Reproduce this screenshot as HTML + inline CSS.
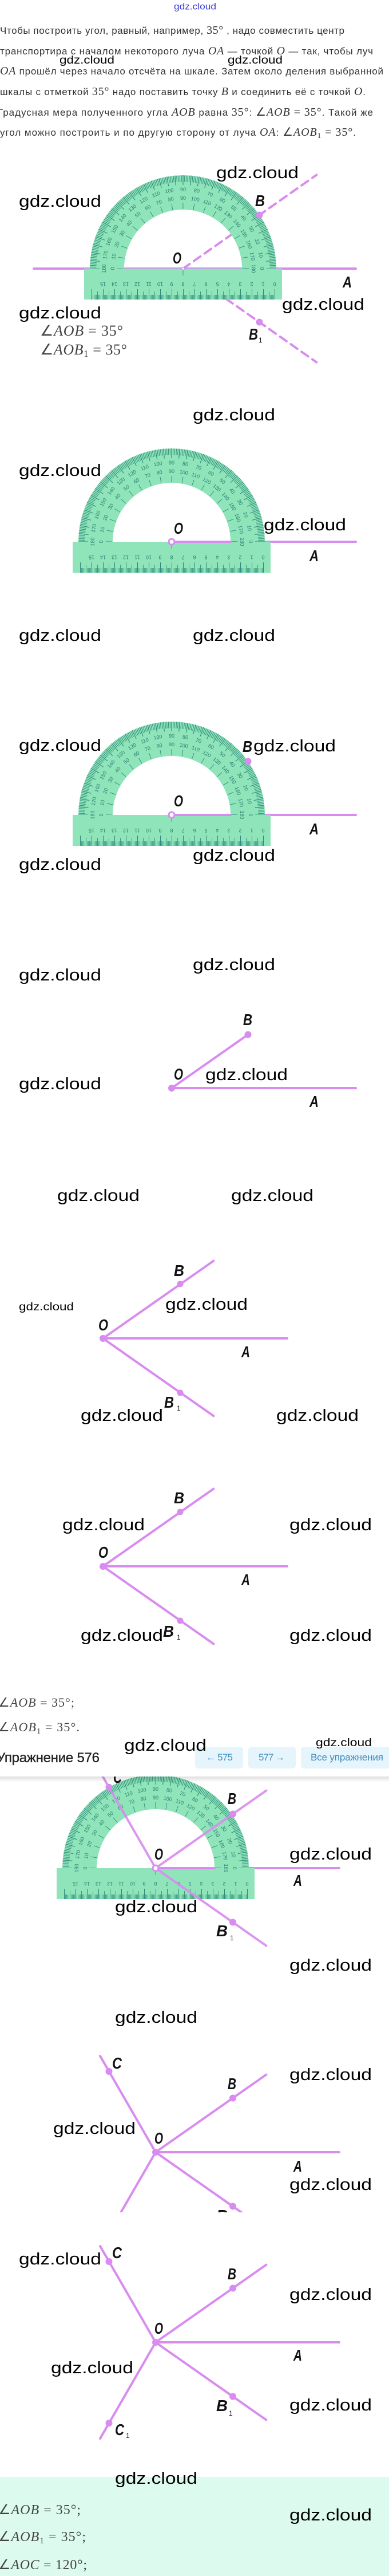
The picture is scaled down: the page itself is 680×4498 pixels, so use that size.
<!DOCTYPE html>
<html><head><meta charset="utf-8">
<style>
html,body{margin:0;padding:0;background:#fff;width:680px;height:4498px;overflow:hidden}
svg{display:block}
.t{font-family:"Liberation Sans",sans-serif;font-size:17px;fill:#333}
.mi{font-family:"Liberation Serif",serif;font-style:italic;font-size:20px}
.mr{font-family:"Liberation Serif",serif;font-style:normal;font-size:20px}
.mm{font-family:"Liberation Serif",serif;fill:#444}
.lb{font-family:"Liberation Sans",sans-serif;font-weight:bold;font-style:italic;font-size:28px;fill:#111}
.sb{font-family:"Liberation Sans",sans-serif;font-size:12px;fill:#111}
.wl{font-family:"Liberation Sans",sans-serif;font-size:29px;fill:#000}
.ws{font-family:"Liberation Sans",sans-serif;font-size:19px;fill:#000}
.pn{font-family:"Liberation Sans",sans-serif;font-size:9px;fill:#2a7f72;text-anchor:middle}
.pf{fill:#8fe4b9}
.ray{stroke:#d98cf0;stroke-width:4;fill:none;stroke-linecap:round}
.dot{fill:#d98cf0}
.btn{fill:#e6f4fb}
.bt{font-family:"Liberation Sans",sans-serif;font-size:17px;fill:#3e8dbf}
</style></head>
<body>
<svg width="680" height="4498" viewBox="0 0 680 4498" xmlns="http://www.w3.org/2000/svg">
<defs>
<linearGradient id="sh" x1="0" y1="0" x2="0" y2="1"><stop offset="0" stop-color="#000" stop-opacity=".13"/><stop offset="1" stop-color="#000" stop-opacity="0"/></linearGradient>
<clipPath id="c8"><rect x="0" y="3560" width="680" height="303"/></clipPath>
</defs>

<!-- top link -->
<text x="304" y="16.5" font-family="Liberation Sans, sans-serif" font-size="16" fill="#3b3bd6" textLength="74" lengthAdjust="spacingAndGlyphs">gdz.cloud</text>

<!-- paragraph -->
<text class="t" x="0" y="59" textLength="602">Чтобы построить угол, равный, например, <tspan class="mr">35°</tspan> , надо совместить центр</text>
<text class="t" x="0" y="95" textLength="652">транспортира с началом некоторого луча <tspan class="mi">OA</tspan> — точкой <tspan class="mi">O</tspan> — так, чтобы луч</text>
<text class="t" x="0" y="130" textLength="670"><tspan class="mi">OA</tspan> прошёл через начало отсчёта на шкале. Затем около деления выбранной</text>
<text class="t" x="0" y="166" textLength="639">шкалы с отметкой <tspan class="mr">35°</tspan> надо поставить точку <tspan class="mi">B</tspan> и соединить её с точкой <tspan class="mi">O</tspan>.</text>
<text class="t" x="-4" y="202" textLength="656">Градусная мера полученного угла <tspan class="mi">AOB</tspan> равна <tspan class="mr">35°</tspan>: <tspan class="mr">∠</tspan><tspan class="mi">AOB</tspan><tspan class="mr"> = 35°</tspan>. Такой же</text>
<text class="t" x="0" y="237" textLength="622">угол можно построить и по другую сторону от луча <tspan class="mi">OA</tspan>: <tspan class="mr">∠</tspan><tspan class="mi">AOB</tspan><tspan class="mr" style="font-size:13px" dy="4">1</tspan><tspan class="mr" dy="-4"> = 35°</tspan>.</text>

<!-- ===== FIG 1 ===== -->
<path d="M59 469H622" class="ray"/>
<path d="M320 469L553.4 305.4M320 469L553.4 632.6" class="ray" stroke-dasharray="14 9" stroke-linecap="butt" stroke-width="4.5"/>
<g transform="translate(320,469)">
<path d="M-163 0A163 163 0 0 1 163 0H103A103 103 0 0 0-103 0Z" class="pf"/>
<rect x="-173" y="0" width="346" height="54" class="pf"/>
<g fill="none" stroke="#2b8878">
<path d="M-157 0A157 157 0 0 1 157 0" stroke-width="11" pathLength="180" stroke-dasharray=".32 .68" stroke-dashoffset=".16"/>
<path d="M-154.5 0A154.5 154.5 0 0 1 154.5 0" stroke-width="17" pathLength="36" stroke-dasharray=".08 .92" stroke-dashoffset=".04"/>
<path d="M-109.5 0A109.5 109.5 0 0 1 109.5 0" stroke-width="11" pathLength="18" stroke-dasharray=".045 .955" stroke-dashoffset=".0225"/>
<path d="M-160 50H161" stroke-width="8" stroke-dasharray=".7 1.3"/>
<path d="M-160 45H161" stroke-width="18" stroke-dasharray="1 19"/>
<path d="M-150 47H161" stroke-width="14" stroke-dasharray=".8 19.2"/>
<path d="M0 0V12" stroke-width=".8"/>
</g>
<g class="pn">
<text transform="rotate(90)translate(0,-135)">0</text><text transform="rotate(80)translate(0,-135)">10</text><text transform="rotate(70)translate(0,-135)">20</text><text transform="rotate(60)translate(0,-135)">30</text><text transform="rotate(50)translate(0,-135)">40</text><text transform="rotate(40)translate(0,-135)">50</text><text transform="rotate(30)translate(0,-135)">60</text><text transform="rotate(20)translate(0,-135)">70</text><text transform="rotate(10)translate(0,-135)">80</text><text transform="rotate(0)translate(0,-135)">90</text><text transform="rotate(-10)translate(0,-135)">100</text><text transform="rotate(-20)translate(0,-135)">110</text><text transform="rotate(-30)translate(0,-135)">120</text><text transform="rotate(-40)translate(0,-135)">130</text><text transform="rotate(-50)translate(0,-135)">140</text><text transform="rotate(-60)translate(0,-135)">150</text><text transform="rotate(-70)translate(0,-135)">160</text><text transform="rotate(-80)translate(0,-135)">170</text><text transform="rotate(-90)translate(0,-135)">180</text>
<text transform="rotate(90)translate(0,-120)">180</text><text transform="rotate(80)translate(0,-120)">170</text><text transform="rotate(70)translate(0,-120)">160</text><text transform="rotate(60)translate(0,-120)">150</text><text transform="rotate(50)translate(0,-120)">140</text><text transform="rotate(40)translate(0,-120)">130</text><text transform="rotate(30)translate(0,-120)">120</text><text transform="rotate(20)translate(0,-120)">110</text><text transform="rotate(10)translate(0,-120)">100</text><text transform="rotate(0)translate(0,-120)">90</text><text transform="rotate(-10)translate(0,-120)">80</text><text transform="rotate(-20)translate(0,-120)">70</text><text transform="rotate(-30)translate(0,-120)">60</text><text transform="rotate(-40)translate(0,-120)">50</text><text transform="rotate(-50)translate(0,-120)">40</text><text transform="rotate(-60)translate(0,-120)">30</text><text transform="rotate(-70)translate(0,-120)">20</text><text transform="rotate(-80)translate(0,-120)">10</text><text transform="rotate(-90)translate(0,-120)">0</text>
<text transform="translate(160,24)rotate(180)">0</text><text transform="translate(140,24)rotate(180)">1</text><text transform="translate(120,24)rotate(180)">2</text><text transform="translate(100,24)rotate(180)">3</text><text transform="translate(80,24)rotate(180)">4</text><text transform="translate(60,24)rotate(180)">5</text><text transform="translate(40,24)rotate(180)">6</text><text transform="translate(20,24)rotate(180)">7</text><text transform="translate(0,24)rotate(180)">8</text><text transform="translate(-20,24)rotate(180)">9</text><text transform="translate(-40,24)rotate(180)">10</text><text transform="translate(-60,24)rotate(180)">11</text><text transform="translate(-80,24)rotate(180)">12</text><text transform="translate(-100,24)rotate(180)">13</text><text transform="translate(-120,24)rotate(180)">14</text><text transform="translate(-140,24)rotate(180)">15</text>
</g>
</g>
<circle cx="320" cy="469" r="2.5" fill="#fff" stroke="#d98cf0" stroke-width="1.5"/>
<circle cx="453.5" cy="375.5" r="6" class="dot"/>
<circle cx="453.5" cy="562.5" r="6" class="dot"/>
<text class="lb" x="302" y="460" textLength="15" lengthAdjust="spacingAndGlyphs">O</text>
<text class="lb" x="446" y="360" textLength="17" lengthAdjust="spacingAndGlyphs">B</text>
<text class="lb" x="599" y="502" textLength="16" lengthAdjust="spacingAndGlyphs">A</text>
<text class="lb" x="435" y="593" textLength="16" lengthAdjust="spacingAndGlyphs">B</text><text class="sb" x="452" y="598">1</text>
<text class="mm" x="70" y="586" style="font-size:26px" textLength="145"><tspan>∠</tspan><tspan font-style="italic">AOB</tspan><tspan> = 35°</tspan></text>
<text class="mm" x="70" y="619" style="font-size:26px" textLength="152"><tspan>∠</tspan><tspan font-style="italic">AOB</tspan><tspan style="font-size:17px" dy="4">1</tspan><tspan dy="-4"> = 35°</tspan></text>

<!-- ===== FIG 2 ===== -->
<path d="M300 946H622" class="ray"/>
<g transform="translate(300,946)">
<path d="M-163 0A163 163 0 0 1 163 0H103A103 103 0 0 0-103 0Z" class="pf"/>
<rect x="-173" y="0" width="346" height="54" class="pf"/>
<g fill="none" stroke="#2b8878">
<path d="M-157 0A157 157 0 0 1 157 0" stroke-width="11" pathLength="180" stroke-dasharray=".32 .68" stroke-dashoffset=".16"/>
<path d="M-154.5 0A154.5 154.5 0 0 1 154.5 0" stroke-width="17" pathLength="36" stroke-dasharray=".08 .92" stroke-dashoffset=".04"/>
<path d="M-109.5 0A109.5 109.5 0 0 1 109.5 0" stroke-width="11" pathLength="18" stroke-dasharray=".045 .955" stroke-dashoffset=".0225"/>
<path d="M-160 50H161" stroke-width="8" stroke-dasharray=".7 1.3"/>
<path d="M-160 45H161" stroke-width="18" stroke-dasharray="1 19"/>
<path d="M-150 47H161" stroke-width="14" stroke-dasharray=".8 19.2"/>
<path d="M0 0V12" stroke-width=".8"/>
</g>
<g class="pn">
<text transform="rotate(90)translate(0,-135)">0</text><text transform="rotate(80)translate(0,-135)">10</text><text transform="rotate(70)translate(0,-135)">20</text><text transform="rotate(60)translate(0,-135)">30</text><text transform="rotate(50)translate(0,-135)">40</text><text transform="rotate(40)translate(0,-135)">50</text><text transform="rotate(30)translate(0,-135)">60</text><text transform="rotate(20)translate(0,-135)">70</text><text transform="rotate(10)translate(0,-135)">80</text><text transform="rotate(0)translate(0,-135)">90</text><text transform="rotate(-10)translate(0,-135)">100</text><text transform="rotate(-20)translate(0,-135)">110</text><text transform="rotate(-30)translate(0,-135)">120</text><text transform="rotate(-40)translate(0,-135)">130</text><text transform="rotate(-50)translate(0,-135)">140</text><text transform="rotate(-60)translate(0,-135)">150</text><text transform="rotate(-70)translate(0,-135)">160</text><text transform="rotate(-80)translate(0,-135)">170</text><text transform="rotate(-90)translate(0,-135)">180</text>
<text transform="rotate(90)translate(0,-120)">180</text><text transform="rotate(80)translate(0,-120)">170</text><text transform="rotate(70)translate(0,-120)">160</text><text transform="rotate(60)translate(0,-120)">150</text><text transform="rotate(50)translate(0,-120)">140</text><text transform="rotate(40)translate(0,-120)">130</text><text transform="rotate(30)translate(0,-120)">120</text><text transform="rotate(20)translate(0,-120)">110</text><text transform="rotate(10)translate(0,-120)">100</text><text transform="rotate(0)translate(0,-120)">90</text><text transform="rotate(-10)translate(0,-120)">80</text><text transform="rotate(-20)translate(0,-120)">70</text><text transform="rotate(-30)translate(0,-120)">60</text><text transform="rotate(-40)translate(0,-120)">50</text><text transform="rotate(-50)translate(0,-120)">40</text><text transform="rotate(-60)translate(0,-120)">30</text><text transform="rotate(-70)translate(0,-120)">20</text><text transform="rotate(-80)translate(0,-120)">10</text><text transform="rotate(-90)translate(0,-120)">0</text>
<text transform="translate(160,24)rotate(180)">0</text><text transform="translate(140,24)rotate(180)">1</text><text transform="translate(120,24)rotate(180)">2</text><text transform="translate(100,24)rotate(180)">3</text><text transform="translate(80,24)rotate(180)">4</text><text transform="translate(60,24)rotate(180)">5</text><text transform="translate(40,24)rotate(180)">6</text><text transform="translate(20,24)rotate(180)">7</text><text transform="translate(0,24)rotate(180)">8</text><text transform="translate(-20,24)rotate(180)">9</text><text transform="translate(-40,24)rotate(180)">10</text><text transform="translate(-60,24)rotate(180)">11</text><text transform="translate(-80,24)rotate(180)">12</text><text transform="translate(-100,24)rotate(180)">13</text><text transform="translate(-120,24)rotate(180)">14</text><text transform="translate(-140,24)rotate(180)">15</text>
</g>
</g>
<path d="M300 946H403" class="ray"/>
<circle cx="300" cy="946" r="5" fill="#fff" stroke="#d98cf0" stroke-width="3"/>
<text class="lb" x="304" y="932" textLength="16" lengthAdjust="spacingAndGlyphs">O</text>
<text class="lb" x="541" y="980" textLength="16" lengthAdjust="spacingAndGlyphs">A</text>

<!-- ===== FIG 3 ===== -->
<path d="M300 1423H622" class="ray"/>
<g transform="translate(300,1423)">
<path d="M-163 0A163 163 0 0 1 163 0H103A103 103 0 0 0-103 0Z" class="pf"/>
<rect x="-173" y="0" width="346" height="54" class="pf"/>
<g fill="none" stroke="#2b8878">
<path d="M-157 0A157 157 0 0 1 157 0" stroke-width="11" pathLength="180" stroke-dasharray=".32 .68" stroke-dashoffset=".16"/>
<path d="M-154.5 0A154.5 154.5 0 0 1 154.5 0" stroke-width="17" pathLength="36" stroke-dasharray=".08 .92" stroke-dashoffset=".04"/>
<path d="M-109.5 0A109.5 109.5 0 0 1 109.5 0" stroke-width="11" pathLength="18" stroke-dasharray=".045 .955" stroke-dashoffset=".0225"/>
<path d="M-160 50H161" stroke-width="8" stroke-dasharray=".7 1.3"/>
<path d="M-160 45H161" stroke-width="18" stroke-dasharray="1 19"/>
<path d="M-150 47H161" stroke-width="14" stroke-dasharray=".8 19.2"/>
<path d="M0 0V12" stroke-width=".8"/>
</g>
<g class="pn">
<text transform="rotate(90)translate(0,-135)">0</text><text transform="rotate(80)translate(0,-135)">10</text><text transform="rotate(70)translate(0,-135)">20</text><text transform="rotate(60)translate(0,-135)">30</text><text transform="rotate(50)translate(0,-135)">40</text><text transform="rotate(40)translate(0,-135)">50</text><text transform="rotate(30)translate(0,-135)">60</text><text transform="rotate(20)translate(0,-135)">70</text><text transform="rotate(10)translate(0,-135)">80</text><text transform="rotate(0)translate(0,-135)">90</text><text transform="rotate(-10)translate(0,-135)">100</text><text transform="rotate(-20)translate(0,-135)">110</text><text transform="rotate(-30)translate(0,-135)">120</text><text transform="rotate(-40)translate(0,-135)">130</text><text transform="rotate(-50)translate(0,-135)">140</text><text transform="rotate(-60)translate(0,-135)">150</text><text transform="rotate(-70)translate(0,-135)">160</text><text transform="rotate(-80)translate(0,-135)">170</text><text transform="rotate(-90)translate(0,-135)">180</text>
<text transform="rotate(90)translate(0,-120)">180</text><text transform="rotate(80)translate(0,-120)">170</text><text transform="rotate(70)translate(0,-120)">160</text><text transform="rotate(60)translate(0,-120)">150</text><text transform="rotate(50)translate(0,-120)">140</text><text transform="rotate(40)translate(0,-120)">130</text><text transform="rotate(30)translate(0,-120)">120</text><text transform="rotate(20)translate(0,-120)">110</text><text transform="rotate(10)translate(0,-120)">100</text><text transform="rotate(0)translate(0,-120)">90</text><text transform="rotate(-10)translate(0,-120)">80</text><text transform="rotate(-20)translate(0,-120)">70</text><text transform="rotate(-30)translate(0,-120)">60</text><text transform="rotate(-40)translate(0,-120)">50</text><text transform="rotate(-50)translate(0,-120)">40</text><text transform="rotate(-60)translate(0,-120)">30</text><text transform="rotate(-70)translate(0,-120)">20</text><text transform="rotate(-80)translate(0,-120)">10</text><text transform="rotate(-90)translate(0,-120)">0</text>
<text transform="translate(160,24)rotate(180)">0</text><text transform="translate(140,24)rotate(180)">1</text><text transform="translate(120,24)rotate(180)">2</text><text transform="translate(100,24)rotate(180)">3</text><text transform="translate(80,24)rotate(180)">4</text><text transform="translate(60,24)rotate(180)">5</text><text transform="translate(40,24)rotate(180)">6</text><text transform="translate(20,24)rotate(180)">7</text><text transform="translate(0,24)rotate(180)">8</text><text transform="translate(-20,24)rotate(180)">9</text><text transform="translate(-40,24)rotate(180)">10</text><text transform="translate(-60,24)rotate(180)">11</text><text transform="translate(-80,24)rotate(180)">12</text><text transform="translate(-100,24)rotate(180)">13</text><text transform="translate(-120,24)rotate(180)">14</text><text transform="translate(-140,24)rotate(180)">15</text>
</g>
</g>
<path d="M300 1423H403" class="ray"/>
<circle cx="300" cy="1423" r="5" fill="#fff" stroke="#d98cf0" stroke-width="3"/>
<circle cx="433.5" cy="1329.5" r="6" class="dot"/>
<text class="lb" x="424" y="1313" textLength="17" lengthAdjust="spacingAndGlyphs">B</text>
<text class="lb" x="304" y="1408" textLength="16" lengthAdjust="spacingAndGlyphs">O</text>
<text class="lb" x="541" y="1457" textLength="16" lengthAdjust="spacingAndGlyphs">A</text>

<!-- ===== FIG 4 ===== -->
<path d="M300 1900H622M300 1900L433.5 1806.5" class="ray"/>
<circle cx="300" cy="1900" r="6" class="dot"/>
<circle cx="433.5" cy="1806.5" r="6" class="dot"/>
<text class="lb" x="425" y="1790" textLength="16" lengthAdjust="spacingAndGlyphs">B</text>
<text class="lb" x="304" y="1885" textLength="16" lengthAdjust="spacingAndGlyphs">O</text>
<text class="lb" x="541" y="1933" textLength="16" lengthAdjust="spacingAndGlyphs">A</text>

<!-- ===== FIG 5 ===== -->
<path d="M180 2337H502M180 2337L373.3 2201.6M180 2337L373.3 2472.4" class="ray"/>
<circle cx="180" cy="2337" r="6" class="dot"/>
<circle cx="315" cy="2242" r="5.5" class="dot"/>
<circle cx="315" cy="2432" r="5.5" class="dot"/>
<text class="lb" x="304" y="2228" textLength="18" lengthAdjust="spacingAndGlyphs">B</text>
<text class="lb" x="172" y="2323" textLength="17" lengthAdjust="spacingAndGlyphs">O</text>
<text class="lb" x="422" y="2370" textLength="15" lengthAdjust="spacingAndGlyphs">A</text>
<text class="lb" x="287" y="2458" textLength="17" lengthAdjust="spacingAndGlyphs">B</text><text class="sb" x="309" y="2463">1</text>

<!-- ===== FIG 6 ===== -->
<path d="M180 2735H502M180 2735L373.3 2599.6M180 2735L373.3 2870.4" class="ray"/>
<circle cx="180" cy="2735" r="6" class="dot"/>
<circle cx="315" cy="2640" r="5.5" class="dot"/>
<circle cx="315" cy="2830" r="5.5" class="dot"/>
<text class="lb" x="304" y="2625" textLength="18" lengthAdjust="spacingAndGlyphs">B</text>
<text class="lb" x="172" y="2720" textLength="17" lengthAdjust="spacingAndGlyphs">O</text>
<text class="lb" x="422" y="2768" textLength="15" lengthAdjust="spacingAndGlyphs">A</text>
<text class="lb" x="285" y="2858" textLength="19" lengthAdjust="spacingAndGlyphs">B</text><text class="sb" x="309" y="2863">1</text>

<text class="mm" x="-3" y="2980" style="font-size:22px" textLength="133"><tspan>∠</tspan><tspan font-style="italic">AOB</tspan><tspan> = 35°;</tspan></text>
<text class="mm" x="-3" y="3023" style="font-size:22px" textLength="142"><tspan>∠</tspan><tspan font-style="italic">AOB</tspan><tspan style="font-size:14px" dy="4">1</tspan><tspan dy="-4"> = 35°.</tspan></text>

<!-- ===== FIG 7 ===== -->
<path d="M272 3262H593" class="ray"/>
<g transform="translate(272,3262)">
<path d="M-163 0A163 163 0 0 1 163 0H103A103 103 0 0 0-103 0Z" class="pf"/>
<rect x="-173" y="0" width="346" height="54" class="pf"/>
<g fill="none" stroke="#2b8878">
<path d="M-157 0A157 157 0 0 1 157 0" stroke-width="11" pathLength="180" stroke-dasharray=".32 .68" stroke-dashoffset=".16"/>
<path d="M-154.5 0A154.5 154.5 0 0 1 154.5 0" stroke-width="17" pathLength="36" stroke-dasharray=".08 .92" stroke-dashoffset=".04"/>
<path d="M-109.5 0A109.5 109.5 0 0 1 109.5 0" stroke-width="11" pathLength="18" stroke-dasharray=".045 .955" stroke-dashoffset=".0225"/>
<path d="M-160 50H161" stroke-width="8" stroke-dasharray=".7 1.3"/>
<path d="M-160 45H161" stroke-width="18" stroke-dasharray="1 19"/>
<path d="M-150 47H161" stroke-width="14" stroke-dasharray=".8 19.2"/>
<path d="M0 0V12" stroke-width=".8"/>
</g>
<g class="pn">
<text transform="rotate(90)translate(0,-135)">0</text><text transform="rotate(80)translate(0,-135)">10</text><text transform="rotate(70)translate(0,-135)">20</text><text transform="rotate(60)translate(0,-135)">30</text><text transform="rotate(50)translate(0,-135)">40</text><text transform="rotate(40)translate(0,-135)">50</text><text transform="rotate(30)translate(0,-135)">60</text><text transform="rotate(20)translate(0,-135)">70</text><text transform="rotate(10)translate(0,-135)">80</text><text transform="rotate(0)translate(0,-135)">90</text><text transform="rotate(-10)translate(0,-135)">100</text><text transform="rotate(-20)translate(0,-135)">110</text><text transform="rotate(-30)translate(0,-135)">120</text><text transform="rotate(-40)translate(0,-135)">130</text><text transform="rotate(-50)translate(0,-135)">140</text><text transform="rotate(-60)translate(0,-135)">150</text><text transform="rotate(-70)translate(0,-135)">160</text><text transform="rotate(-80)translate(0,-135)">170</text><text transform="rotate(-90)translate(0,-135)">180</text>
<text transform="rotate(90)translate(0,-120)">180</text><text transform="rotate(80)translate(0,-120)">170</text><text transform="rotate(70)translate(0,-120)">160</text><text transform="rotate(60)translate(0,-120)">150</text><text transform="rotate(50)translate(0,-120)">140</text><text transform="rotate(40)translate(0,-120)">130</text><text transform="rotate(30)translate(0,-120)">120</text><text transform="rotate(20)translate(0,-120)">110</text><text transform="rotate(10)translate(0,-120)">100</text><text transform="rotate(0)translate(0,-120)">90</text><text transform="rotate(-10)translate(0,-120)">80</text><text transform="rotate(-20)translate(0,-120)">70</text><text transform="rotate(-30)translate(0,-120)">60</text><text transform="rotate(-40)translate(0,-120)">50</text><text transform="rotate(-50)translate(0,-120)">40</text><text transform="rotate(-60)translate(0,-120)">30</text><text transform="rotate(-70)translate(0,-120)">20</text><text transform="rotate(-80)translate(0,-120)">10</text><text transform="rotate(-90)translate(0,-120)">0</text>
<text transform="translate(160,24)rotate(180)">0</text><text transform="translate(140,24)rotate(180)">1</text><text transform="translate(120,24)rotate(180)">2</text><text transform="translate(100,24)rotate(180)">3</text><text transform="translate(80,24)rotate(180)">4</text><text transform="translate(60,24)rotate(180)">5</text><text transform="translate(40,24)rotate(180)">6</text><text transform="translate(20,24)rotate(180)">7</text><text transform="translate(0,24)rotate(180)">8</text><text transform="translate(-20,24)rotate(180)">9</text><text transform="translate(-40,24)rotate(180)">10</text><text transform="translate(-60,24)rotate(180)">11</text><text transform="translate(-80,24)rotate(180)">12</text><text transform="translate(-100,24)rotate(180)">13</text><text transform="translate(-120,24)rotate(180)">14</text><text transform="translate(-140,24)rotate(180)">15</text>
</g>
</g>
<path d="M272 3262H375" class="ray"/>
<path d="M272 3262L465.3 3126.6M272 3262L465.3 3397.4M272 3262L175 3094" class="ray" stroke-opacity=".92"/>
<circle cx="272" cy="3262" r="5" fill="#fff" stroke="#d98cf0" stroke-width="3"/>
<circle cx="407" cy="3167.5" r="6" class="dot"/>
<circle cx="407" cy="3356.5" r="6" class="dot"/>
<circle cx="190.5" cy="3120.8" r="6" class="dot"/>
<text class="lb" x="198" y="3113" textLength="15" lengthAdjust="spacingAndGlyphs">C</text>
<text class="lb" x="398" y="3150" textLength="15" lengthAdjust="spacingAndGlyphs">B</text>
<text class="lb" x="270" y="3247" textLength="15" lengthAdjust="spacingAndGlyphs">O</text>
<text class="lb" x="513" y="3293" textLength="15" lengthAdjust="spacingAndGlyphs">A</text>
<text class="lb" x="378" y="3381" textLength="20" lengthAdjust="spacingAndGlyphs">B</text><text class="sb" x="402" y="3388">1</text>

<!-- header bar -->
<rect x="0" y="3030" width="680" height="72" fill="#fff"/>
<rect x="0" y="3102" width="680" height="10" fill="url(#sh)"/>
<text x="-6" y="3077" font-family="Liberation Sans, sans-serif" font-size="24" fill="#222" stroke="#222" stroke-width=".35" textLength="180">Упражнение 576</text>
<rect x="341" y="3050" width="84" height="38" rx="6" class="btn"/>
<text class="bt" x="360" y="3074" textLength="47">← 575</text>
<rect x="434" y="3050" width="83" height="38" rx="6" class="btn"/>
<text class="bt" x="452" y="3074" textLength="46">577 →</text>
<rect x="526" y="3050" width="170" height="38" rx="6" class="btn"/>
<text class="bt" x="543" y="3074" textLength="127">Все упражнения</text>

<!-- ===== FIG 8 ===== -->
<path d="M272 3758H593M272 3758L465.3 3622.6M272 3758L175 3590" class="ray"/>
<g clip-path="url(#c8)">
<path d="M272 3758L465.3 3893.4M272 3758L175 3926" class="ray"/>
<circle cx="407" cy="3852.5" r="6" class="dot"/>
<text class="lb" x="378" y="3878" textLength="20" lengthAdjust="spacingAndGlyphs">B</text>
</g>
<circle cx="272" cy="3758" r="6" class="dot"/>
<circle cx="407" cy="3663.5" r="6" class="dot"/>
<circle cx="190.5" cy="3617" r="6" class="dot"/>
<text class="lb" x="196" y="3612" textLength="17" lengthAdjust="spacingAndGlyphs">C</text>
<text class="lb" x="398" y="3648" textLength="15" lengthAdjust="spacingAndGlyphs">B</text>
<text class="lb" x="270" y="3743" textLength="15" lengthAdjust="spacingAndGlyphs">O</text>
<text class="lb" x="513" y="3792" textLength="15" lengthAdjust="spacingAndGlyphs">A</text>

<!-- ===== FIG 9 ===== -->
<path d="M272 4090H593M272 4090L465.3 3954.6M272 4090L465.3 4225.4M272 4090L175 3922M272 4090L175 4258" class="ray"/>
<circle cx="272" cy="4090" r="6" class="dot"/>
<circle cx="407" cy="3995.5" r="6" class="dot"/>
<circle cx="407" cy="4184.5" r="6" class="dot"/>
<circle cx="190.5" cy="3949" r="6" class="dot"/>
<circle cx="190.5" cy="4231" r="6" class="dot"/>
<text class="lb" x="196" y="3943" textLength="17" lengthAdjust="spacingAndGlyphs">C</text>
<text class="lb" x="398" y="3980" textLength="15" lengthAdjust="spacingAndGlyphs">B</text>
<text class="lb" x="270" y="4075" textLength="15" lengthAdjust="spacingAndGlyphs">O</text>
<text class="lb" x="513" y="4122" textLength="15" lengthAdjust="spacingAndGlyphs">A</text>
<text class="lb" x="378" y="4210" textLength="20" lengthAdjust="spacingAndGlyphs">B</text><text class="sb" x="400" y="4218">1</text>
<text class="lb" x="201" y="4252" textLength="16" lengthAdjust="spacingAndGlyphs">C</text><text class="sb" x="220" y="4257">1</text>

<!-- green answer box -->
<rect x="0" y="4325" width="680" height="173" fill="#dcfbee"/>
<text class="mm" x="-3" y="4390" style="font-size:24px" textLength="144"><tspan>∠</tspan><tspan font-style="italic">AOB</tspan><tspan> = 35°;</tspan></text>
<text class="mm" x="-3" y="4437" style="font-size:24px" textLength="153"><tspan>∠</tspan><tspan font-style="italic">AOB</tspan><tspan style="font-size:15px" dy="4">1</tspan><tspan dy="-4"> = 35°;</tspan></text>
<text class="mm" x="-3" y="4486" style="font-size:24px" textLength="155"><tspan>∠</tspan><tspan font-style="italic">AOC</tspan><tspan> = 120°;</tspan></text>

<!-- watermarks -->
<g>
<text class="ws" x="104" y="111" textLength="96" lengthAdjust="spacingAndGlyphs">gdz.cloud</text>
<text class="ws" x="398" y="111" textLength="96" lengthAdjust="spacingAndGlyphs">gdz.cloud</text>
<text class="wl" x="378" y="311" textLength="144" lengthAdjust="spacingAndGlyphs">gdz.cloud</text>
<text class="wl" x="33" y="361" textLength="144" lengthAdjust="spacingAndGlyphs">gdz.cloud</text>
<text class="wl" x="493" y="541" textLength="144" lengthAdjust="spacingAndGlyphs">gdz.cloud</text>
<text class="wl" x="33" y="556" textLength="144" lengthAdjust="spacingAndGlyphs">gdz.cloud</text>
<text class="wl" x="337" y="734" textLength="144" lengthAdjust="spacingAndGlyphs">gdz.cloud</text>
<text class="wl" x="33" y="831" textLength="144" lengthAdjust="spacingAndGlyphs">gdz.cloud</text>
<text class="wl" x="461" y="926" textLength="144" lengthAdjust="spacingAndGlyphs">gdz.cloud</text>
<text class="wl" x="33" y="1119" textLength="144" lengthAdjust="spacingAndGlyphs">gdz.cloud</text>
<text class="wl" x="337" y="1119" textLength="144" lengthAdjust="spacingAndGlyphs">gdz.cloud</text>
<text class="wl" x="33" y="1311" textLength="144" lengthAdjust="spacingAndGlyphs">gdz.cloud</text>
<text class="wl" x="443" y="1312" textLength="144" lengthAdjust="spacingAndGlyphs">gdz.cloud</text>
<text class="wl" x="337" y="1503" textLength="144" lengthAdjust="spacingAndGlyphs">gdz.cloud</text>
<text class="wl" x="33" y="1519" textLength="144" lengthAdjust="spacingAndGlyphs">gdz.cloud</text>
<text class="wl" x="337" y="1694" textLength="144" lengthAdjust="spacingAndGlyphs">gdz.cloud</text>
<text class="wl" x="33" y="1712" textLength="144" lengthAdjust="spacingAndGlyphs">gdz.cloud</text>
<text class="wl" x="359" y="1886" textLength="144" lengthAdjust="spacingAndGlyphs">gdz.cloud</text>
<text class="wl" x="33" y="1902" textLength="144" lengthAdjust="spacingAndGlyphs">gdz.cloud</text>
<text class="wl" x="100" y="2097" textLength="144" lengthAdjust="spacingAndGlyphs">gdz.cloud</text>
<text class="wl" x="404" y="2097" textLength="144" lengthAdjust="spacingAndGlyphs">gdz.cloud</text>
<text class="ws" x="33" y="2288" textLength="96" lengthAdjust="spacingAndGlyphs">gdz.cloud</text>
<text class="wl" x="289" y="2287" textLength="144" lengthAdjust="spacingAndGlyphs">gdz.cloud</text>
<text class="wl" x="141" y="2481" textLength="144" lengthAdjust="spacingAndGlyphs">gdz.cloud</text>
<text class="wl" x="483" y="2481" textLength="144" lengthAdjust="spacingAndGlyphs">gdz.cloud</text>
<text class="wl" x="109" y="2672" textLength="144" lengthAdjust="spacingAndGlyphs">gdz.cloud</text>
<text class="wl" x="506" y="2672" textLength="144" lengthAdjust="spacingAndGlyphs">gdz.cloud</text>
<text class="wl" x="141" y="2865" textLength="144" lengthAdjust="spacingAndGlyphs">gdz.cloud</text>
<text class="wl" x="506" y="2865" textLength="144" lengthAdjust="spacingAndGlyphs">gdz.cloud</text>
<text class="wl" x="217" y="3057" textLength="144" lengthAdjust="spacingAndGlyphs">gdz.cloud</text>
<text class="ws" x="552" y="3049" textLength="98" lengthAdjust="spacingAndGlyphs">gdz.cloud</text>
<text class="wl" x="506" y="3247" textLength="144" lengthAdjust="spacingAndGlyphs">gdz.cloud</text>
<text class="wl" x="201" y="3339" textLength="144" lengthAdjust="spacingAndGlyphs">gdz.cloud</text>
<text class="wl" x="506" y="3441" textLength="144" lengthAdjust="spacingAndGlyphs">gdz.cloud</text>
<text class="wl" x="201" y="3532" textLength="144" lengthAdjust="spacingAndGlyphs">gdz.cloud</text>
<text class="wl" x="506" y="3632" textLength="144" lengthAdjust="spacingAndGlyphs">gdz.cloud</text>
<text class="wl" x="93" y="3726" textLength="144" lengthAdjust="spacingAndGlyphs">gdz.cloud</text>
<text class="wl" x="506" y="3824" textLength="144" lengthAdjust="spacingAndGlyphs">gdz.cloud</text>
<text class="wl" x="33" y="3954" textLength="144" lengthAdjust="spacingAndGlyphs">gdz.cloud</text>
<text class="wl" x="506" y="4016" textLength="144" lengthAdjust="spacingAndGlyphs">gdz.cloud</text>
<text class="wl" x="89" y="4144" textLength="144" lengthAdjust="spacingAndGlyphs">gdz.cloud</text>
<text class="wl" x="506" y="4209" textLength="144" lengthAdjust="spacingAndGlyphs">gdz.cloud</text>
<text class="wl" x="201" y="4337" textLength="144" lengthAdjust="spacingAndGlyphs">gdz.cloud</text>
<text class="wl" x="506" y="4401" textLength="144" lengthAdjust="spacingAndGlyphs">gdz.cloud</text>
</g>
</svg>
</body></html>
